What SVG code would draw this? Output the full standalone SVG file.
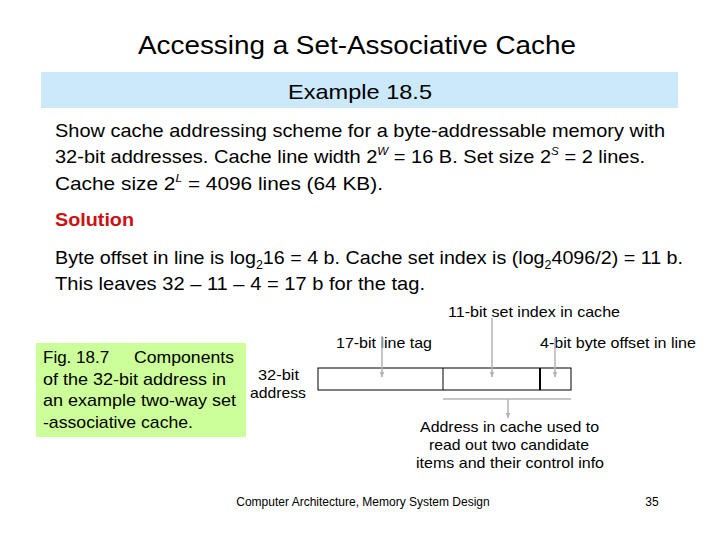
<svg xmlns="http://www.w3.org/2000/svg" width="720" height="540" viewBox="0 0 720 540">
<defs>
<style>
text{font-family:"Liberation Sans",Arial,sans-serif;fill:#000}
.title{font-size:25px}
.body{font-size:19px}
.small{font-size:15px}
.fig{font-size:17px}
.foot{font-size:12px}
.sup{font-size:11px;font-style:italic}
.sub{font-size:12px}
.gl{stroke:#b3b3b3;stroke-width:1.5;fill:none}
.bx{fill:#fff;stroke:#000;stroke-width:1}
</style>
<marker id="ah" viewBox="0 0 10 10" refX="9" refY="5" markerWidth="4" markerHeight="4" orient="auto" markerUnits="strokeWidth">
<path d="M0,1 L10,5 L0,9 z" fill="#b3b3b3"/>
</marker>
</defs>
<rect width="720" height="540" fill="#fff"/>
<text class="title" x="138" y="54" textLength="438" lengthAdjust="spacingAndGlyphs">Accessing a Set-Associative Cache</text>
<rect x="41" y="72" width="637" height="36" fill="#cce9fa"/>
<text x="288" y="99" textLength="144" lengthAdjust="spacingAndGlyphs" style="font-size:21px">Example 18.5</text>
<text class="body" x="55" y="137" textLength="610" lengthAdjust="spacingAndGlyphs">Show cache addressing scheme for a byte-addressable memory with</text>
<text class="body" x="55" y="163" textLength="590" lengthAdjust="spacingAndGlyphs">32-bit addresses. Cache line width 2<tspan class="sup" dy="-8">W</tspan><tspan dy="8"> = 16 B. Set size 2</tspan><tspan class="sup" dy="-8">S</tspan><tspan dy="8"> = 2 lines.</tspan></text>
<text class="body" x="55" y="190" textLength="328" lengthAdjust="spacingAndGlyphs">Cache size 2<tspan class="sup" dy="-8">L</tspan><tspan dy="8"> = 4096 lines (64 KB).</tspan></text>
<text class="body" x="55" y="226" textLength="79" lengthAdjust="spacingAndGlyphs" style="font-weight:bold;fill:#cc1111">Solution</text>
<text class="body" x="55" y="264" textLength="628" lengthAdjust="spacingAndGlyphs">Byte offset in line is log<tspan class="sub" dy="5">2</tspan><tspan dy="-5">16 = 4 b. Cache set index is (log</tspan><tspan class="sub" dy="5">2</tspan><tspan dy="-5">4096/2) = 11 b.</tspan></text>
<text class="body" x="55" y="290" textLength="370" lengthAdjust="spacingAndGlyphs">This leaves 32 – 11 – 4 = 17 b for the tag.</text>
<g id="caption">
<rect x="36" y="343" width="210" height="94" fill="#ccff99"/>
<text class="fig" x="43" y="363">Fig. 18.7</text>
<text class="fig" x="134" y="363" textLength="100" lengthAdjust="spacingAndGlyphs">Components</text>
<text class="fig" x="43" y="385" textLength="183" lengthAdjust="spacingAndGlyphs">of the 32-bit address in</text>
<text class="fig" x="43" y="406" textLength="193" lengthAdjust="spacingAndGlyphs">an example two-way set</text>
<text class="fig" x="43" y="428" textLength="150" lengthAdjust="spacingAndGlyphs">-associative cache.</text>
</g>
<g id="address">
<text class="small" x="258" y="380" textLength="41" lengthAdjust="spacingAndGlyphs">32-bit</text>
<text class="small" x="250" y="398" textLength="56" lengthAdjust="spacingAndGlyphs">address</text>
<rect class="bx" x="318" y="368" width="253" height="22"/>
<line x1="443" y1="368" x2="443" y2="390" stroke="#000"/>
<line x1="540" y1="368" x2="540" y2="390" stroke="#000" stroke-width="2"/>
</g>
<g id="labels">
<text class="small" x="336" y="348" textLength="96" lengthAdjust="spacingAndGlyphs">17-bit line tag</text>
<text class="small" x="448" y="317" textLength="172" lengthAdjust="spacingAndGlyphs">11-bit set index in cache</text>
<text class="small" x="540" y="348" textLength="156" lengthAdjust="spacingAndGlyphs">4-bit byte offset in line</text>
<text class="small" x="420" y="432" textLength="179" lengthAdjust="spacingAndGlyphs">Address in cache used to</text>
<text class="small" x="429" y="450" textLength="160" lengthAdjust="spacingAndGlyphs">read out two candidate</text>
<text class="small" x="416" y="468" textLength="188" lengthAdjust="spacingAndGlyphs">items and their control info</text>
</g>
<g id="connectors">
<line class="gl" x1="382" y1="336" x2="382" y2="377" marker-end="url(#ah)"/>
<line class="gl" x1="492" y1="318" x2="492" y2="377" marker-end="url(#ah)"/>
<line class="gl" x1="555" y1="338" x2="555" y2="377" marker-end="url(#ah)"/>
<line class="gl" x1="443" y1="399" x2="571" y2="399"/>
<line class="gl" x1="508" y1="399" x2="508" y2="418" marker-end="url(#ah)"/>
</g>
<text class="foot" x="363" y="506" text-anchor="middle">Computer Architecture, Memory System Design</text>
<text class="foot" x="652" y="506" text-anchor="middle">35</text>
</svg>
